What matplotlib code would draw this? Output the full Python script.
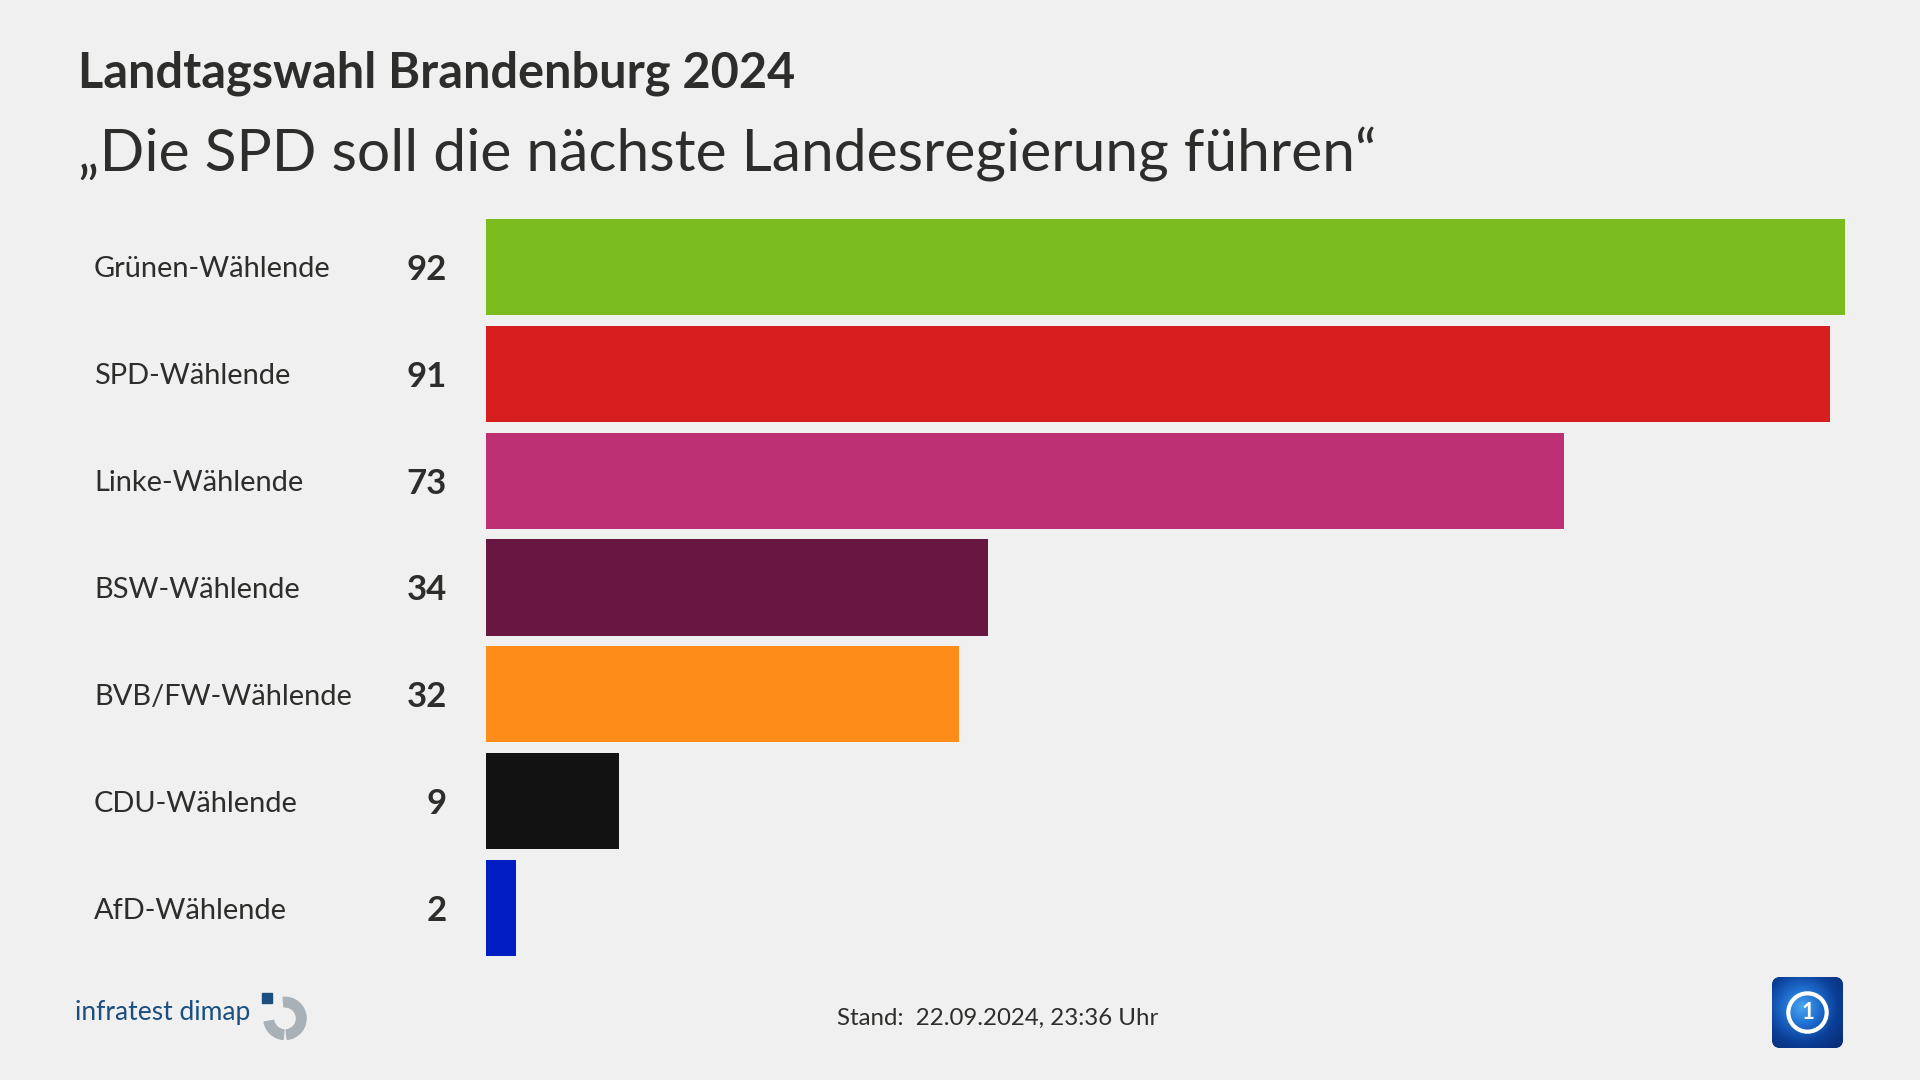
import numpy as np
import matplotlib
matplotlib.use("Agg")
import matplotlib.pyplot as plt
import matplotlib.transforms as mtransforms
from matplotlib.colors import LinearSegmentedColormap
from matplotlib.patches import FancyBboxPatch, Circle, Wedge, Rectangle

# data
categories = ["Grünen-Wählende", "SPD-Wählende", "Linke-Wählende", "BSW-Wählende",
              "BVB/FW-Wählende", "CDU-Wählende", "AfD-Wählende"]
values = [92, 91, 73, 34, 32, 9, 2]
colors = ["#7abc1e", "#d81f1f", "#bd3074", "#681840", "#fd8c19", "#121212", "#001ec4"]

title = "Landtagswahl Brandenburg 2024"
subtitle = "„Die SPD soll die nächste Landesregierung führen“"
stand = "Stand:  22.09.2024, 23:36 Uhr"

BG = "#f0f0f0"
TXT = "#2d2d2b"
FONT = "Lato"

W, H = 1920, 1080
fig = plt.figure(figsize=(W / 100, H / 100), dpi=100, facecolor=BG)

# bar area in pixels
left, right = 486, 1845
top, bottom = 213.5, 961.5
ax = fig.add_axes([left / W, 1 - bottom / H, (right - left) / W, (bottom - top) / H])
ax.set_facecolor(BG)
y = np.arange(len(categories))
ax.barh(y, values, height=0.9, color=colors, edgecolor="none")
ax.set_xlim(0, max(values))
ax.set_ylim(len(categories) - 0.5, -0.5)
ax.axis("off")

trans = mtransforms.blended_transform_factory(fig.transFigure, ax.transData)
for yi, cat, v in zip(y, categories, values):
    ax.text(94 / W, yi, cat, transform=trans, ha="left", va="center_baseline",
            fontsize=20.9, color=TXT, family=FONT)
    ax.text(447 / W, yi, str(v), transform=trans, ha="right", va="center_baseline",
            fontsize=25, color=TXT, family=FONT, fontweight="bold")

# titles
fig.text(78 / W, 1 - 87 / H, title, ha="left", va="baseline", fontsize=35,
         fontweight="bold", color=TXT, family=FONT)
fig.text(78 / W, 1 - 172 / H, subtitle, ha="left", va="baseline", fontsize=42.3,
         color=TXT, family=FONT)

# footer
fig.text(837 / W, 1 - 1025 / H, stand, ha="left", va="baseline", fontsize=17.3,
         color=TXT, family=FONT)
fig.text(75 / W, 1 - 1020 / H, "infratest dimap", ha="left", va="baseline",
         fontsize=19, color="#1b4f80", family=FONT)

# infratest logo
lax = fig.add_axes([260 / W, 1 - 1040 / H, 48 / W, 48 / H])
lax.set_xlim(0, 1)
lax.set_ylim(0, 1)
lax.set_aspect("equal")
lax.axis("off")
lax.add_patch(Wedge((0.52, 0.45), 0.44, -84, 95, width=0.2, color="#a8b0b8"))
lax.add_patch(Wedge((0.52, 0.45), 0.44, 190, 265, width=0.2, color="#a8b0b8"))
lax.add_patch(Rectangle((0.05, 0.78), 0.2, 0.2, color="#1b4f80"))

# ARD logo
aax = fig.add_axes([1772 / W, 1 - 1048 / H, 71 / W, 71 / H])
aax.axis("off")
box = FancyBboxPatch((0.0, 0.0), 1.0, 1.0, boxstyle="round,pad=0,rounding_size=0.12",
                     facecolor="#0b47a8", edgecolor="none")
aax.add_patch(box)
ard_cmap = LinearSegmentedColormap.from_list("ard", ["#4aa6f0", "#1f6fd0", "#0b3f98", "#082f78"])
gx, gy = np.meshgrid(np.linspace(0, 1, 100), np.linspace(0, 1, 100))
grad = np.sqrt((gx - 0.42) ** 2 + (gy - 0.58) ** 2)
im = aax.imshow(grad, extent=(0, 1, 0, 1), origin="lower", cmap=ard_cmap,
                vmin=0, vmax=0.75, interpolation="bilinear", zorder=2)
im.set_clip_path(box)
aax.set_xlim(0, 1)
aax.set_ylim(0, 1)
aax.add_patch(Circle((0.5, 0.5), 0.27, fill=False, edgecolor="white", lw=3, zorder=3))
aax.text(0.5, 0.5, "1", ha="center", va="center", color="white", fontsize=16,
         fontweight="bold", family=FONT, zorder=4)

fig.savefig("out.png", dpi=100, facecolor=BG)
